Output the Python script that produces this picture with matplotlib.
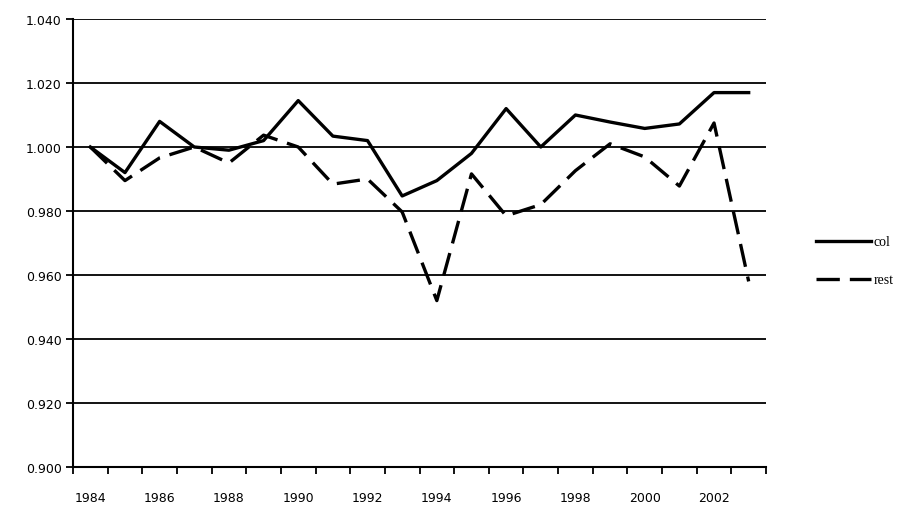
import matplotlib
matplotlib.use("Agg")
import matplotlib.pyplot as plt
import numpy as np

years = list(range(1984, 2004))
col = [1.000, 0.992, 1.008, 1.000, 0.999, 1.002, 1.0145, 1.0034, 1.002, 0.9847,
       0.9895, 0.998, 1.012, 1.000, 1.010, 1.0078, 1.0058, 1.0072, 1.017, 1.017]
rest = [1.000, 0.9895, 0.9966, 1.000, 0.995, 1.0037, 1.000, 0.9884, 0.990, 0.9797,
        0.952, 0.9916, 0.9785, 0.982, 0.9926, 1.001, 0.9969, 0.9878, 1.0075, 0.958]
yticks = [0.900, 0.920, 0.940, 0.960, 0.980, 1.000, 1.020, 1.040]

fig = plt.figure(figsize=(9.01, 5.10), dpi=100)
ax = fig.add_axes([73/901, 42/510, (766-73)/901, (468-20)/510])

x = np.arange(len(years))
ax.plot(x, col, color='black', lw=2.4, solid_joinstyle='round', label='col')
ax.plot(x, rest, color='black', lw=2.4, dashes=(7, 3), label='rest')

ax.set_xlim(-0.5, len(years) - 0.5)
ax.set_ylim(0.900, 1.040)
ax.set_yticks(yticks)
ax.set_yticklabels([f"{v:.3f}" for v in yticks])
ax.yaxis.grid(True, color='black', lw=1.3)
ax.set_axisbelow(True)

ax.set_xticks(x[::2])
ax.set_xticklabels([str(y) for y in years[::2]])
ax.set_xticks(np.arange(-0.5, len(years)), minor=True)
ax.tick_params(axis='x', which='major', length=0, pad=17, labelsize=9)
ax.tick_params(axis='x', which='minor', length=5, width=1.3, direction='out')
ax.tick_params(axis='y', length=5, width=1.3, direction='out', labelsize=9, pad=3)

for s in ['top', 'right']:
    ax.spines[s].set_visible(False)
for s in ['left', 'bottom']:
    ax.spines[s].set_linewidth(1.5)

leg = fig.legend(loc='center left', bbox_to_anchor=(803/901, 1 - 262/510), frameon=False,
                 handlelength=4.0, labelspacing=1.8, handletextpad=0.2,
                 prop={'family': 'Liberation Serif', 'size': 10})

fig.savefig('out.png', dpi=100)
